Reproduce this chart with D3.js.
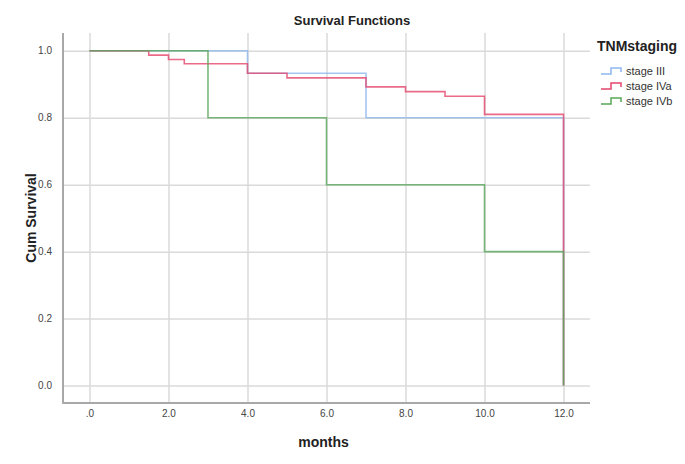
<!DOCTYPE html>
<html>
<head>
<meta charset="utf-8">
<script src="https://cdn.jsdelivr.net/npm/d3@7"></script>
<style>
  body { margin: 0; background: #fff; }
  text { font-family: "Liberation Sans", Arial, sans-serif; }
</style>
</head>
<body>
<div id="wrapper"></div>
<script>
// Data
const seriesNames = ["stage III", "stage IVa", "stage IVb"];
const seriesColors = ["#8fb8ee", "#e5466b", "#5aa65a"];
const stageIIITimes = [0, 4, 7, 12];
const stageIIISurv = [1.0, 0.933, 0.8, 0];
const stageIVaTimes = [0, 1.5, 2.0, 2.4, 4.0, 5.0, 7.0, 8.0, 9.0, 10.0, 12.0];
const stageIVaSurv = [1.0, 0.987, 0.974, 0.961, 0.933, 0.919, 0.892, 0.878, 0.864, 0.810, 0];
const stageIVbTimes = [0, 3, 6, 10, 12];
const stageIVbSurv = [1.0, 0.8, 0.6, 0.4, 0];
const xTicks = [0, 2, 4, 6, 8, 10, 12];
const yTicks = [0, 0.2, 0.4, 0.6, 0.8, 1.0];

const seriesTimes = [stageIIITimes, stageIVaTimes, stageIVbTimes];
const seriesSurv = [stageIIISurv, stageIVaSurv, stageIVbSurv];

async function drawChart() {
  const dimensions = {
    width: 685,
    height: 464,
    margin: { top: 33, right: 95, bottom: 61, left: 63 },
  };
  dimensions.boundedWidth = dimensions.width - dimensions.margin.left - dimensions.margin.right;
  dimensions.boundedHeight = dimensions.height - dimensions.margin.top - dimensions.margin.bottom;

  const svg = d3.select("#wrapper")
    .append("svg")
      .attr("width", dimensions.width)
      .attr("height", dimensions.height);

  const bounds = svg.append("g")
    .attr("transform", `translate(${dimensions.margin.left},${dimensions.margin.top})`);

  const xScale = d3.scaleLinear()
    .domain([-0.67, 12.67])
    .range([0, dimensions.boundedWidth]);

  const yScale = d3.scaleLinear()
    .domain([-0.052, 1.053])
    .range([dimensions.boundedHeight, 0]);

  // grid lines
  const xGrid = bounds.append("g")
    .attr("transform", `translate(0,${dimensions.boundedHeight})`)
    .call(d3.axisBottom(xScale).tickValues(xTicks)
      .tickSize(-dimensions.boundedHeight).tickFormat(""));
  const yGrid = bounds.append("g")
    .call(d3.axisLeft(yScale).tickValues(yTicks)
      .tickSize(-dimensions.boundedWidth).tickFormat(""));
  [xGrid, yGrid].forEach(g => {
    g.select(".domain").remove();
    g.selectAll("line").attr("stroke", "#dadada").attr("stroke-width", 1.5);
  });

  // tick labels
  const xAxis = bounds.append("g")
    .attr("transform", `translate(0,${dimensions.boundedHeight})`)
    .call(d3.axisBottom(xScale).tickValues(xTicks).tickSize(0).tickPadding(7)
      .tickFormat(d => d === 0 ? ".0" : d3.format(".1f")(d)));
  const yAxis = bounds.append("g")
    .call(d3.axisLeft(yScale).tickValues(yTicks).tickSize(0).tickPadding(11)
      .tickFormat(d3.format(".1f")));
  [xAxis, yAxis].forEach(g => {
    g.select(".domain").remove();
    g.selectAll("text")
      .attr("fill", "#444")
      .style("font-size", "10px")
      .style("font-family", "'Liberation Sans', Arial, sans-serif");
  });

  // frame (left + bottom)
  bounds.append("path")
    .attr("d", `M0,0 V${dimensions.boundedHeight} H${dimensions.boundedWidth}`)
    .attr("fill", "none")
    .attr("stroke", "#a8a8a8")
    .attr("stroke-width", 2)
    .attr("stroke-linejoin", "round");

  // survival curves
  const lineGen = d3.line()
    .x(d => xScale(d[0]))
    .y(d => yScale(d[1]))
    .curve(d3.curveStepAfter);

  seriesNames.forEach((name, i) => {
    const pts = seriesTimes[i].map((t, j) => [t, seriesSurv[i][j]]);
    bounds.append("path")
      .datum(pts)
      .attr("d", lineGen)
      .attr("fill", "none")
      .attr("stroke", seriesColors[i])
      .attr("stroke-width", 1.6)
      .attr("stroke-opacity", 0.8);
  });

  // titles
  svg.append("text")
    .attr("x", 352).attr("y", 25)
    .attr("text-anchor", "middle")
    .style("font-size", "13px").style("font-weight", "bold")
    .attr("fill", "#222")
    .text("Survival Functions");

  svg.append("text")
    .attr("x", dimensions.margin.left + dimensions.boundedWidth / 2 - 3)
    .attr("y", 447)
    .attr("text-anchor", "middle")
    .style("font-size", "14px").style("font-weight", "bold")
    .attr("fill", "#222")
    .text("months");

  svg.append("text")
    .attr("transform", `translate(36,${dimensions.margin.top + dimensions.boundedHeight / 2}) rotate(-90)`)
    .attr("text-anchor", "middle")
    .style("font-size", "14px").style("font-weight", "bold")
    .attr("fill", "#222")
    .text("Cum Survival");

  // legend
  const legend = svg.append("g").attr("transform", "translate(597,0)");
  legend.append("text")
    .attr("x", 0).attr("y", 51)
    .style("font-size", "14px").style("font-weight", "bold")
    .attr("fill", "#222")
    .text("TNMstaging");

  seriesNames.forEach((name, i) => {
    const y = 71 + i * 15;
    legend.append("path")
      .attr("d", `M4,${y + 3} H14 V${y - 3} H24 V${y + 1}`)
      .attr("fill", "none")
      .attr("stroke", seriesColors[i])
      .attr("stroke-width", 1.5);
    legend.append("text")
      .attr("x", 29).attr("y", y + 4)
      .style("font-size", "11px")
      .attr("fill", "#333")
      .text(name);
  });
}
drawChart();
</script>
</body>
</html>
